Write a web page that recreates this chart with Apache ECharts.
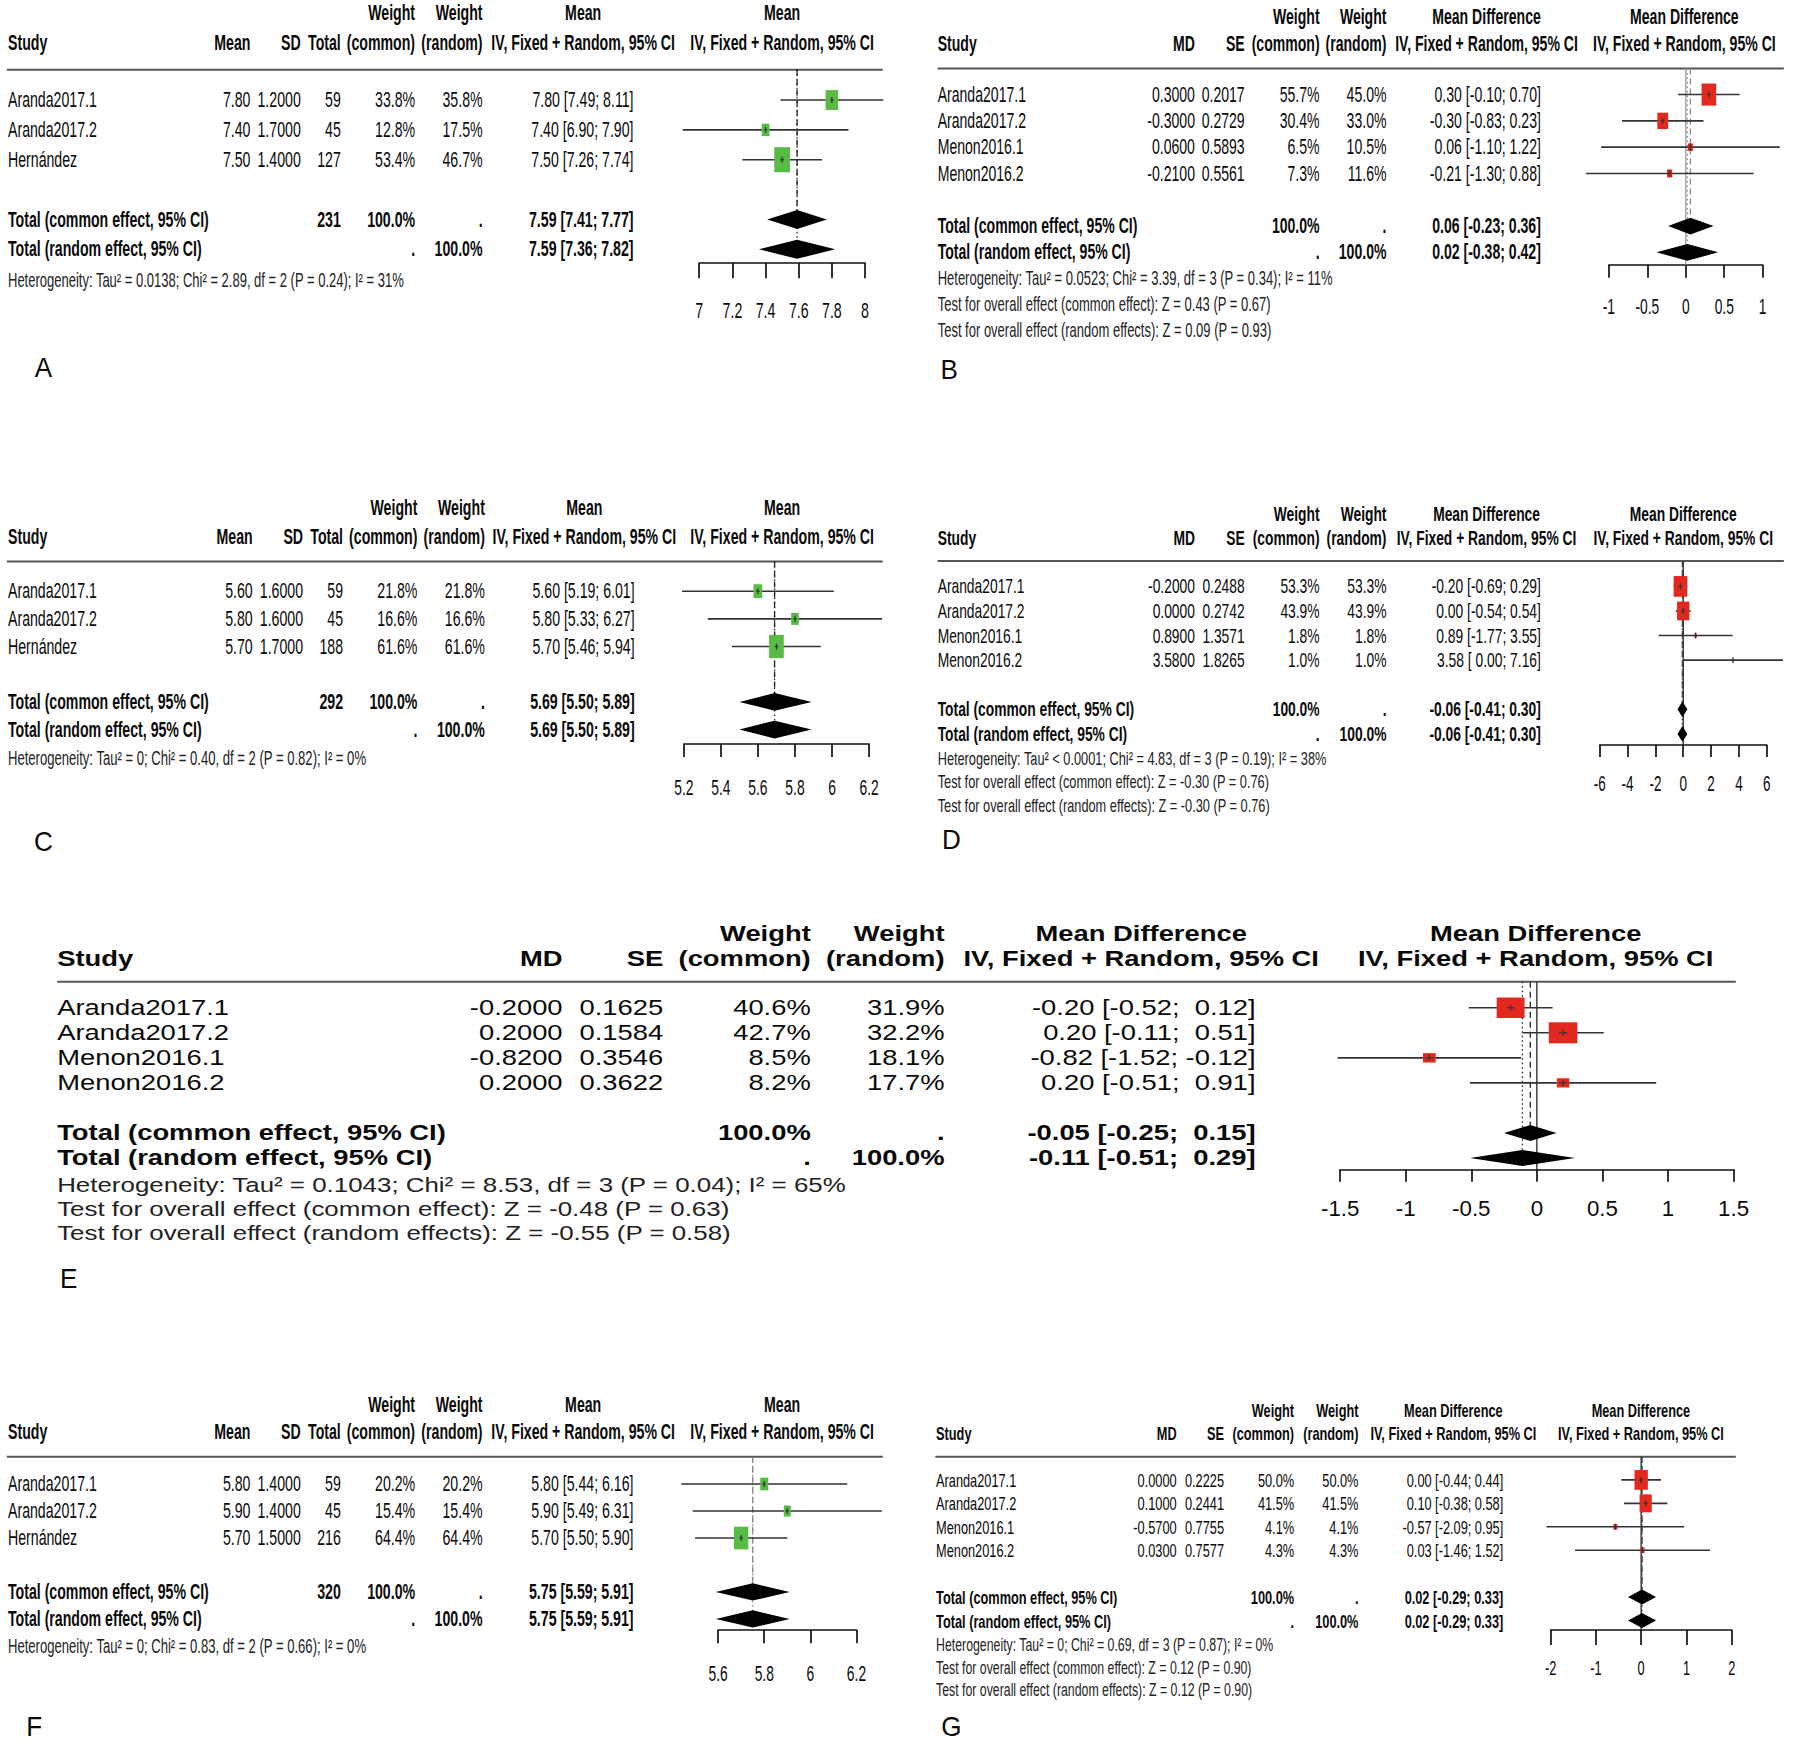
<!DOCTYPE html>
<html lang="en">
<head>
<meta charset="UTF-8" />
<title>forest plots A-G</title>
<style>
  html, body { margin: 0; padding: 0; background: #fff; }
  #main { width: 1793px; height: 1748px; }
</style>
</head>
<body>
<div id="main"></div>
<script src="https://cdn.jsdelivr.net/npm/echarts@6/dist/echarts.min.js"></script>
<script>
/* globals echarts */

// ---- data ----
var headMean = ["Mean", "SD", "Total", "(common)", "(random)"];
var headMD = ["MD", "SE", "(common)", "(random)"];

var studiesA = ["Aranda2017.1", "Aranda2017.2", "Hernández"];
var meanA = [7.80, 7.40, 7.50];
var sdA = [1.2, 1.7, 1.4];
var nA = [59, 45, 127];
var wComA = [33.8, 12.8, 53.4];
var wRanA = [35.8, 17.5, 46.7];
var lowA = [7.49, 6.90, 7.26];
var highA = [8.11, 7.90, 7.74];
var commonA = [7.59, 7.41, 7.77];
var randomA = [7.59, 7.36, 7.82];
var nTotalA = 231;
var ticksA = [7, 7.2, 7.4, 7.6, 7.8, 8];
var notesA = ["Heterogeneity: Tau² = 0.0138; Chi² = 2.89, df = 2 (P = 0.24); I² = 31%"];

var studiesB = ["Aranda2017.1", "Aranda2017.2", "Menon2016.1", "Menon2016.2"];
var mdB = [0.30, -0.30, 0.06, -0.21];
var seB = [0.2017, 0.2729, 0.5893, 0.5561];
var wComB = [55.7, 30.4, 6.5, 7.3];
var wRanB = [45.0, 33.0, 10.5, 11.6];
var lowB = [-0.10, -0.83, -1.10, -1.30];
var highB = [0.70, 0.23, 1.22, 0.88];
var commonB = [0.06, -0.23, 0.36];
var randomB = [0.02, -0.38, 0.42];
var ticksB = [-1, -0.5, 0, 0.5, 1];
var notesB = [
  "Heterogeneity: Tau² = 0.0523; Chi² = 3.39, df = 3 (P = 0.34); I² = 11%",
  "Test for overall effect (common effect): Z = 0.43 (P = 0.67)",
  "Test for overall effect (random effects): Z = 0.09 (P = 0.93)"
];

var studiesC = ["Aranda2017.1", "Aranda2017.2", "Hernández"];
var meanC = [5.60, 5.80, 5.70];
var sdC = [1.6, 1.6, 1.7];
var nC = [59, 45, 188];
var wComC = [21.8, 16.6, 61.6];
var wRanC = [21.8, 16.6, 61.6];
var lowC = [5.19, 5.33, 5.46];
var highC = [6.01, 6.27, 5.94];
var commonC = [5.69, 5.50, 5.89];
var randomC = [5.69, 5.50, 5.89];
var nTotalC = 292;
var ticksC = [5.2, 5.4, 5.6, 5.8, 6, 6.2];
var notesC = ["Heterogeneity: Tau² = 0; Chi² = 0.40, df = 2 (P = 0.82); I² = 0%"];

var studiesD = ["Aranda2017.1", "Aranda2017.2", "Menon2016.1", "Menon2016.2"];
var mdD = [-0.20, 0.00, 0.89, 3.58];
var seD = [0.2488, 0.2742, 1.3571, 1.8265];
var wComD = [53.3, 43.9, 1.8, 1.0];
var wRanD = [53.3, 43.9, 1.8, 1.0];
var lowD = [-0.69, -0.54, -1.77, 0.00];
var highD = [0.29, 0.54, 3.55, 7.16];
var commonD = [-0.06, -0.41, 0.30];
var randomD = [-0.06, -0.41, 0.30];
var ticksD = [-6, -4, -2, 0, 2, 4, 6];
var notesD = [
  "Heterogeneity: Tau² < 0.0001; Chi² = 4.83, df = 3 (P = 0.19); I² = 38%",
  "Test for overall effect (common effect): Z = -0.30 (P = 0.76)",
  "Test for overall effect (random effects): Z = -0.30 (P = 0.76)"
];

var studiesE = ["Aranda2017.1", "Aranda2017.2", "Menon2016.1", "Menon2016.2"];
var mdE = [-0.20, 0.20, -0.82, 0.20];
var seE = [0.1625, 0.1584, 0.3546, 0.3622];
var wComE = [40.6, 42.7, 8.5, 8.2];
var wRanE = [31.9, 32.2, 18.1, 17.7];
var lowE = [-0.52, -0.11, -1.52, -0.51];
var highE = [0.12, 0.51, -0.12, 0.91];
var commonE = [-0.05, -0.25, 0.15];
var randomE = [-0.11, -0.51, 0.29];
var ticksE = [-1.5, -1, -0.5, 0, 0.5, 1, 1.5];
var notesE = [
  "Heterogeneity: Tau² = 0.1043; Chi² = 8.53, df = 3 (P = 0.04); I² = 65%",
  "Test for overall effect (common effect): Z = -0.48 (P = 0.63)",
  "Test for overall effect (random effects): Z = -0.55 (P = 0.58)"
];

var studiesF = ["Aranda2017.1", "Aranda2017.2", "Hernández"];
var meanF = [5.80, 5.90, 5.70];
var sdF = [1.4, 1.4, 1.5];
var nF = [59, 45, 216];
var wComF = [20.2, 15.4, 64.4];
var wRanF = [20.2, 15.4, 64.4];
var lowF = [5.44, 5.49, 5.50];
var highF = [6.16, 6.31, 5.90];
var commonF = [5.75, 5.59, 5.91];
var randomF = [5.75, 5.59, 5.91];
var nTotalF = 320;
var ticksF = [5.6, 5.8, 6, 6.2];
var notesF = ["Heterogeneity: Tau² = 0; Chi² = 0.83, df = 2 (P = 0.66); I² = 0%"];

var studiesG = ["Aranda2017.1", "Aranda2017.2", "Menon2016.1", "Menon2016.2"];
var mdG = [0.00, 0.10, -0.57, 0.03];
var seG = [0.2225, 0.2441, 0.7755, 0.7577];
var wComG = [50.0, 41.5, 4.1, 4.3];
var wRanG = [50.0, 41.5, 4.1, 4.3];
var lowG = [-0.44, -0.38, -2.09, -1.46];
var highG = [0.44, 0.58, 0.95, 1.52];
var commonG = [0.02, -0.29, 0.33];
var randomG = [0.02, -0.29, 0.33];
var ticksG = [-2, -1, 0, 1, 2];
var notesG = [
  "Heterogeneity: Tau² = 0; Chi² = 0.69, df = 3 (P = 0.87); I² = 0%",
  "Test for overall effect (common effect): Z = 0.12 (P = 0.90)",
  "Test for overall effect (random effects): Z = 0.12 (P = 0.90)"
];

// ---- layout (measured on a 1568 px wide copy, scaled by S) ----
var S = 1793 / 1568;
var FONT = '"Liberation Sans", Arial, Helvetica, sans-serif';
var GREEN = "#57bb46";
var RED = "#e3281f";

var colsMean = [219, 263, 298, 363, 422, 554];
var colsMD = [1045, 1088.5, 1154, 1212.5, 1347.5];

var panels = [
  { tag: "A", kind: "mean", studies: studiesA, c1: meanA, c2: sdA, n: nA, nTotal: nTotalA,
    wCom: wComA, wRan: wRanA, low: lowA, high: highA, common: commonA, random: randomA,
    ticks: ticksA, notes: notesA, color: GREEN, refColor: null, poolColor: "#222",
    lay: { study: 7, cols: colsMean, ciMid: 510, plotMid: 684, rule: [6, 772], axisX: [611.5, 756.5],
      head1: 11, head2: 37.5, ruleY: 61, row0: 87.5, rowH: 26.1, axisY: 230, tickLen: 13.4,
      labelY: 271, noteY: 245.5, noteH: 22, font: 18.6, noteFont: 17.1, tickFont: 20,
      sx: 0.665, tickSx: 0.62, aspect: 0.63, tagXY: [38, 322] } },
  { tag: "B", kind: "md", studies: studiesB, c1: mdB, c2: seB,
    wCom: wComB, wRan: wRanB, low: lowB, high: highB, common: commonB, random: randomB,
    ticks: ticksB, notes: notesB, color: RED, refColor: "#9a9a9a", poolColor: "#8a8a8a",
    lay: { study: 820, cols: colsMD, ciMid: 1300, plotMid: 1473, rule: [820, 1560], axisX: [1407, 1541.5],
      head1: 14.7, head2: 38.2, ruleY: 60, row0: 82.7, rowH: 23, axisY: 231.7, tickLen: 11.3,
      labelY: 268.2, noteY: 243.5, noteH: 22.6, font: 18.5, noteFont: 17.1, tickFont: 19.5,
      sx: 0.665, tickSx: 0.62, aspect: 0.66, tagXY: [830, 323] } },
  { tag: "C", kind: "mean", studies: studiesC, c1: meanC, c2: sdC, n: nC, nTotal: nTotalC,
    wCom: wComC, wRan: wRanC, low: lowC, high: highC, common: commonC, random: randomC,
    ticks: ticksC, notes: notesC, color: GREEN, refColor: null, poolColor: "#222",
    lay: { study: 7, cols: [221, 265, 300, 365, 424, 555], ciMid: 511, plotMid: 684, rule: [6, 772],
      axisX: [598, 760], head1: 444.5, head2: 469.3, ruleY: 491, row0: 517, rowH: 24.2, axisY: 650.6,
      tickLen: 11.5, labelY: 688, noteY: 663, noteH: 21, font: 18.6, noteFont: 17.2, tickFont: 19.5,
      sx: 0.665, tickSx: 0.62, aspect: 0.63, tagXY: [38, 736] } },
  { tag: "D", kind: "md", studies: studiesD, c1: mdD, c2: seD,
    wCom: wComD, wRan: wRanD, low: lowD, high: highD, common: commonD, random: randomD,
    ticks: ticksD, notes: notesD, color: RED, refColor: "#222", poolColor: "#444",
    lay: { study: 820, cols: colsMD, ciMid: 1300, plotMid: 1472, rule: [820, 1560], axisX: [1399, 1545],
      head1: 449.5, head2: 470.8, ruleY: 490.6, row0: 512.8, rowH: 21.5, axisY: 651.5, tickLen: 10.5,
      labelY: 685, noteY: 662.5, noteH: 20.6, font: 18.2, noteFont: 16.8, tickFont: 19,
      sx: 0.665, tickSx: 0.62, aspect: 0.66, tagXY: [832, 734] } },
  { tag: "E", kind: "md", studies: studiesE, c1: mdE, c2: seE,
    wCom: wComE, wRan: wRanE, low: lowE, high: highE, common: commonE, random: randomE,
    ticks: ticksE, notes: notesE, color: RED, refColor: "#222", poolColor: "#222",
    lay: { study: 50, cols: [492, 580, 709, 826, 1098], ciMid: 998, plotMid: 1343, rule: [50, 1518],
      axisX: [1172, 1516], head1: 816.4, head2: 838.5, ruleY: 858.5, row0: 881.3, rowH: 21.9,
      axisY: 1022.6, tickLen: 10.8, labelY: 1056.7, noteY: 1036.5, noteH: 21, font: 18.7,
      noteFont: 17.7, tickFont: 19.5, sx: 1.28, tickSx: 1.0, aspect: 1.36, tagXY: [60, 1118] } },
  { tag: "F", kind: "mean", studies: studiesF, c1: meanF, c2: sdF, n: nF, nTotal: nTotalF,
    wCom: wComF, wRan: wRanF, low: lowF, high: highF, common: commonF, random: randomF,
    ticks: ticksF, notes: notesF, color: GREEN, refColor: null, poolColor: "#888",
    lay: { study: 7, cols: colsMean, ciMid: 510, plotMid: 684, rule: [6, 772], axisX: [628, 749],
      head1: 1228.7, head2: 1252, ruleY: 1274, row0: 1297.8, rowH: 23.6, axisY: 1425.5, tickLen: 11.5,
      labelY: 1462.8, noteY: 1440, noteH: 21, font: 18.6, noteFont: 17.2, tickFont: 19.5,
      sx: 0.665, tickSx: 0.62, aspect: 0.63, tagXY: [30, 1510] } },
  { tag: "G", kind: "md", studies: studiesG, c1: mdG, c2: seG,
    wCom: wComG, wRan: wRanG, low: lowG, high: highG, common: commonG, random: randomG,
    ticks: ticksG, notes: notesG, color: RED, refColor: "#222", poolColor: "#444",
    lay: { study: 818.6, cols: [1029, 1070.4, 1131.7, 1188, 1314.6], ciMid: 1271, plotMid: 1435,
      rule: [818, 1518], axisX: [1356, 1514.4], head1: 1233, head2: 1253.5, ruleY: 1273.9,
      row0: 1294.2, rowH: 20.5, axisY: 1425.5, tickLen: 13, labelY: 1459, noteY: 1438.5, noteH: 19.5,
      font: 16.8, noteFont: 16.2, tickFont: 18, sx: 0.665, tickSx: 0.62, aspect: 0.68, tagXY: [832, 1510] } }
];

// ---- helpers ----
function pad(s, w) {
  while (s.length < w) s = " " + s;
  return s;
}

// "est [low; high]" with the bounds padded to a common width, as meta prints them
function ciStrings(est, low, high) {
  var lo = low.map(function (v) { return v.toFixed(2); });
  var hi = high.map(function (v) { return v.toFixed(2); });
  var wl = Math.max.apply(null, lo.map(function (s) { return s.length; }));
  var wh = Math.max.apply(null, hi.map(function (s) { return s.length; }));
  return est.map(function (e, i) {
    return e.toFixed(2) + " [" + pad(lo[i], wl) + "; " + pad(hi[i], wh) + "]";
  });
}

function makeStudyRenderer(p) {
  var wmax = Math.max.apply(null, p.wCom);
  var L = p.lay;
  return function (params, api) {
    var row = api.value(2);
    var a = api.coord([api.value(0), row]);
    var b = api.coord([api.value(1), row]);
    var c = api.coord([api.value(3), row]);
    var h = 0.84 * L.rowH * S * Math.sqrt(api.value(4) / wmax);
    var w = h * L.aspect;
    var m = 3;
    return {
      type: "group",
      children: [
        { type: "line", shape: { x1: a[0], y1: a[1], x2: b[0], y2: b[1] },
          style: { stroke: "#333", lineWidth: 1.6 } },
        { type: "rect", shape: { x: c[0] - w / 2, y: c[1] - h / 2, width: w, height: h },
          style: { fill: p.color } },
        { type: "line", shape: { x1: c[0], y1: c[1] - m, x2: c[0], y2: c[1] + m },
          style: { stroke: "#333", lineWidth: 1.2 } },
        { type: "line", shape: { x1: c[0] - m * L.aspect, y1: c[1], x2: c[0] + m * L.aspect, y2: c[1] },
          style: { stroke: "#333", lineWidth: 1.2 } }
      ]
    };
  };
}

function makeDiamondRenderer(p) {
  var L = p.lay;
  return function (params, api) {
    var row = api.value(3);
    var c = api.coord([api.value(0), row]);
    var l = api.coord([api.value(1), row]);
    var r = api.coord([api.value(2), row]);
    var hh = 0.32 * L.rowH * S;
    return {
      type: "polygon",
      shape: { points: [[l[0], l[1]], [c[0], c[1] - hh], [r[0], r[1]], [c[0], c[1] + hh]] },
      style: { fill: "#000" }
    };
  };
}

function vline(i, x, y0, y1, color, dash, z) {
  return {
    type: "line", xAxisIndex: i, yAxisIndex: i, z: z, silent: true, symbol: "none",
    data: [[x, y0], [x, y1]],
    lineStyle: { color: color, width: 1.3, type: dash }
  };
}

// ---- option ----
var grids = [], xAxes = [], yAxes = [], series = [];

panels.forEach(function (p, i) {
  var L = p.lay;
  var k = p.studies.length;
  var t = p.ticks;
  p.yMin = (L.ruleY - L.row0) / L.rowH;
  p.yMax = (L.axisY - L.row0) / L.rowH;

  grids.push({
    left: L.axisX[0] * S, top: L.ruleY * S,
    width: (L.axisX[1] - L.axisX[0]) * S, height: (L.axisY - L.ruleY) * S
  });
  xAxes.push({
    type: "value", gridIndex: i, min: t[0], max: t[t.length - 1],
    interval: +(t[1] - t[0]).toFixed(6),
    axisLine: { show: true, onZero: false, lineStyle: { color: "#111", width: 1.7 } },
    axisTick: { show: true, length: L.tickLen * S, customValues: t, lineStyle: { color: "#111", width: 1.7 } },
    axisLabel: { show: false },
    splitLine: { show: false }
  });
  yAxes.push({ type: "value", gridIndex: i, inverse: true, min: p.yMin, max: p.yMax, show: false });

  if (p.refColor) series.push(vline(i, 0, p.yMin, p.yMax, p.refColor, "solid", 1));
  series.push(vline(i, p.common[0], p.yMin, k + 1, p.poolColor, [6, 4], 1));
  series.push(vline(i, p.random[0], p.yMin, k + 2, p.poolColor, [1.5, 3], 1));

  series.push({
    type: "custom", xAxisIndex: i, yAxisIndex: i, z: 3, silent: true, clip: false,
    renderItem: makeStudyRenderer(p),
    data: p.studies.map(function (s, j) { return [p.low[j], p.high[j], j, p.c1[j], p.wCom[j]]; })
  });
  series.push({
    type: "custom", xAxisIndex: i, yAxisIndex: i, z: 4, silent: true, clip: false,
    renderItem: makeDiamondRenderer(p),
    data: [
      [p.common[0], p.common[1], p.common[2], k + 1],
      [p.random[0], p.random[1], p.random[2], k + 2]
    ]
  });
});

var chart = echarts.init(document.getElementById("main"), null, { renderer: "svg" });
chart.setOption({
  animation: false,
  backgroundColor: "#ffffff",
  grid: grids, xAxis: xAxes, yAxis: yAxes, series: series
});

// ---- text (table, headers, notes, tick labels) ----
function label(x, y, s, size, sx, align, bold, color) {
  return {
    type: "text", x: x, y: y, scaleX: sx, silent: true,
    style: {
      text: s, fill: color || "#0a0a0a",
      fontSize: size, fontFamily: FONT, fontWeight: bold ? "bold" : "normal",
      align: align, textAlign: align, verticalAlign: "middle", textVerticalAlign: "middle"
    }
  };
}

var els = [];
panels.forEach(function (p, i) {
  var L = p.lay;
  var k = p.studies.length;
  var f = L.font * S, sx = L.sx;
  var isMean = p.kind === "mean";
  var heads = isMean ? headMean : headMD;
  var cx = function (v) { return v * S; };
  var rowY = function (r) { return chart.convertToPixel({ gridIndex: i }, [p.ticks[0], r])[1]; };
  var wc = isMean ? 3 : 2; // column index of Weight (common)

  // headers
  els.push(label(cx(L.cols[wc]), cx(L.head1), "Weight", f, sx, "right", true));
  els.push(label(cx(L.cols[wc + 1]), cx(L.head1), "Weight", f, sx, "right", true));
  var effect = isMean ? "Mean" : "Mean Difference";
  els.push(label(cx(L.ciMid), cx(L.head1), effect, f, sx, "center", true));
  els.push(label(cx(L.plotMid), cx(L.head1), effect, f, sx, "center", true));
  els.push(label(cx(L.study), cx(L.head2), "Study", f, sx, "left", true));
  heads.forEach(function (h, j) {
    els.push(label(cx(L.cols[j]), cx(L.head2), h, f, sx, "right", true));
  });
  els.push(label(cx(L.ciMid), cx(L.head2), "IV, Fixed + Random, 95% CI", f, sx, "center", true));
  els.push(label(cx(L.plotMid), cx(L.head2), "IV, Fixed + Random, 95% CI", f, sx, "center", true));
  els.push({
    type: "line", silent: true,
    shape: { x1: cx(L.rule[0]), y1: cx(L.ruleY), x2: cx(L.rule[1]), y2: cx(L.ruleY) },
    style: { stroke: "#555", lineWidth: 2 }
  });

  // study rows and totals
  var ci = ciStrings(p.c1.concat([p.common[0], p.random[0]]),
    p.low.concat([p.common[1], p.random[1]]),
    p.high.concat([p.common[2], p.random[2]]));
  p.studies.forEach(function (s, j) {
    var y = rowY(j);
    var vals = isMean
      ? [p.c1[j].toFixed(2), p.c2[j].toFixed(4), String(p.n[j])]
      : [p.c1[j].toFixed(4), p.c2[j].toFixed(4)];
    vals.push(p.wCom[j].toFixed(1) + "%", p.wRan[j].toFixed(1) + "%", ci[j]);
    els.push(label(cx(L.study), y, s, f, sx, "left", false));
    vals.forEach(function (v, c) {
      els.push(label(cx(L.cols[c]), y, v, f, sx, "right", false));
    });
  });
  var yC = rowY(k + 1), yR = rowY(k + 2);
  var lastCol = L.cols.length - 1;
  els.push(label(cx(L.study), yC, "Total (common effect, 95% CI)", f, sx, "left", true));
  els.push(label(cx(L.study), yR, "Total (random effect, 95% CI)", f, sx, "left", true));
  if (isMean) els.push(label(cx(L.cols[2]), yC, String(p.nTotal), f, sx, "right", true));
  els.push(label(cx(L.cols[wc]), yC, "100.0%", f, sx, "right", true));
  els.push(label(cx(L.cols[wc + 1]), yC, ".", f, sx, "right", true));
  els.push(label(cx(L.cols[wc]), yR, ".", f, sx, "right", true));
  els.push(label(cx(L.cols[wc + 1]), yR, "100.0%", f, sx, "right", true));
  els.push(label(cx(L.cols[lastCol]), yC, ci[k], f, sx, "right", true));
  els.push(label(cx(L.cols[lastCol]), yR, ci[k + 1], f, sx, "right", true));

  // notes
  p.notes.forEach(function (s, j) {
    els.push(label(cx(L.study), cx(L.noteY + j * L.noteH), s, L.noteFont * S, sx, "left", false, "#222"));
  });

  // tick labels, placed through the x axis scale
  p.ticks.forEach(function (t) {
    var px = chart.convertToPixel({ gridIndex: i }, [t, p.yMax])[0];
    els.push(label(px, cx(L.labelY), String(t), L.tickFont * S, L.tickSx, "center", false));
  });

  // panel letter
  els.push(label(cx(L.tagXY[0]), cx(L.tagXY[1]), p.tag, 24 * S, 0.95, "center", false));
});

chart.setOption({ graphic: { elements: els } });
</script>
</body>
</html>
